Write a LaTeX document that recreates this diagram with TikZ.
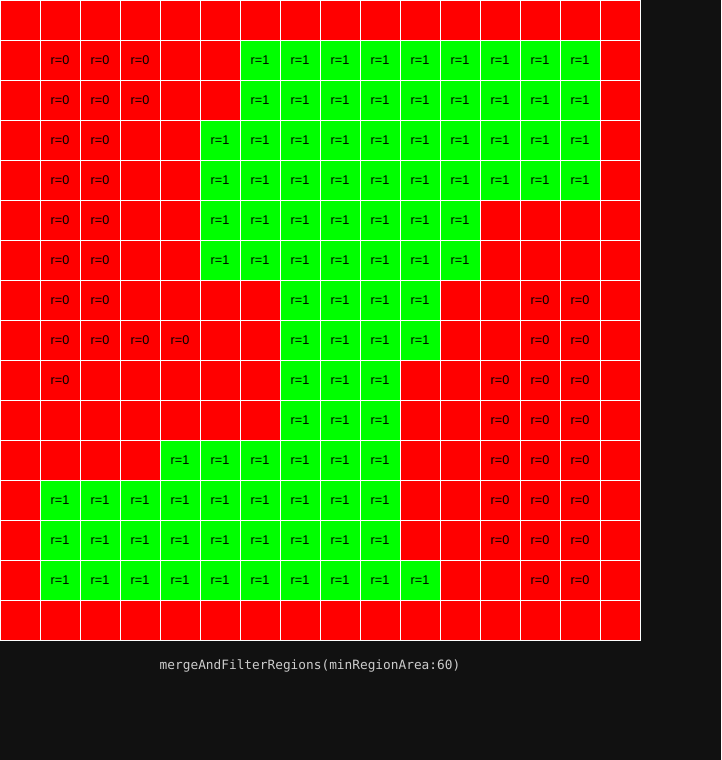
\documentclass[tikz,border=0pt]{standalone}
\usepackage{fontspec}
\setmainfont{Liberation Sans}
\newfontfamily\codefont{DejaVu Sans Mono}
\definecolor{canvas}{HTML}{111111}
\definecolor{cellred}{HTML}{FF0000}
\definecolor{cellgreen}{HTML}{00FF00}
\definecolor{caption}{HTML}{CCCCCC}
\tikzstyle{cell} = [rectangle, minimum size=30pt, inner sep=0pt, draw=white, line width=0.75pt, font=\fontsize{9.5}{10}\selectfont, text=black]
\tikzstyle{cellx} = [cell, fill=cellred]
\tikzstyle{cell0} = [cell, fill=cellred]
\tikzstyle{cell1} = [cell, fill=cellgreen]

\begin{document}
\begin{tikzpicture}[x=0.75pt, y=-0.75pt]
\useasboundingbox (0,0) rectangle (721,760);
\fill[canvas] (0,0) rectangle (721,760);

% x = empty, 0 = r=0, 1 = r=1
\foreach \row [count=\j from 0] in {
 {x,x,x,x,x,x,x,x,x,x,x,x,x,x,x,x},
 {x,0,0,0,x,x,1,1,1,1,1,1,1,1,1,x},
 {x,0,0,0,x,x,1,1,1,1,1,1,1,1,1,x},
 {x,0,0,x,x,1,1,1,1,1,1,1,1,1,1,x},
 {x,0,0,x,x,1,1,1,1,1,1,1,1,1,1,x},
 {x,0,0,x,x,1,1,1,1,1,1,1,x,x,x,x},
 {x,0,0,x,x,1,1,1,1,1,1,1,x,x,x,x},
 {x,0,0,x,x,x,x,1,1,1,1,x,x,0,0,x},
 {x,0,0,0,0,x,x,1,1,1,1,x,x,0,0,x},
 {x,0,x,x,x,x,x,1,1,1,x,x,0,0,0,x},
 {x,x,x,x,x,x,x,1,1,1,x,x,0,0,0,x},
 {x,x,x,x,1,1,1,1,1,1,x,x,0,0,0,x},
 {x,1,1,1,1,1,1,1,1,1,x,x,0,0,0,x},
 {x,1,1,1,1,1,1,1,1,1,x,x,0,0,0,x},
 {x,1,1,1,1,1,1,1,1,1,1,x,x,0,0,x},
 {x,x,x,x,x,x,x,x,x,x,x,x,x,x,x,x}}
 \foreach \c [count=\i from 0] in \row
  \node (c-\i-\j) [cell\c] at (40*\i+20, 40*\j+20) {\if x\c\else r=\c\fi};

\node (title) [text=caption, font=\codefont\fontsize{9.6}{11}\selectfont] at (310,666) {mergeAndFilterRegions(minRegionArea:60)};

\end{tikzpicture}
\end{document}
